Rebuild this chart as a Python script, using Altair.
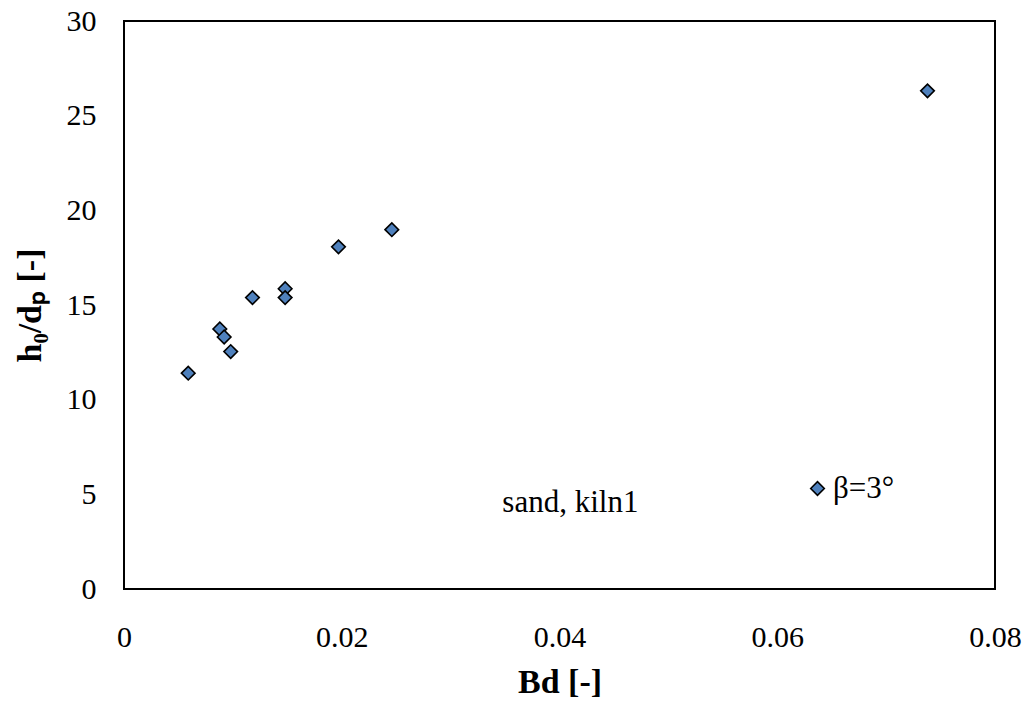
import altair as alt
import pandas as pd

# Data
bd = [0.0059, 0.0088, 0.0092, 0.0098, 0.0118, 0.0148, 0.0148, 0.0197, 0.0246, 0.0738]
h0_dp = [11.4, 13.73, 13.31, 12.54, 15.39, 15.86, 15.39, 18.07, 18.98, 26.31]
series = ["β=3°"] * len(bd)

x_ticks = [0, 0.02, 0.04, 0.06, 0.08]
y_ticks = [0, 5, 10, 15, 20, 25, 30]

note_text = ["sand, kiln1"]
note_x = [0.041]
note_y = [4.08]

FONT = "Liberation Serif"
BLUE = "#4F81BD"

df = pd.DataFrame({"Bd": bd, "h": h0_dp, "series": series})
notes = pd.DataFrame({"t": note_text, "x": note_x, "y": note_y})

xscale = alt.Scale(domain=[0, 0.08], nice=False, zero=False)
yscale = alt.Scale(domain=[0, 30], nice=False, zero=False)

points = alt.Chart(df).mark_point(
    shape="diamond", filled=True, size=185, stroke="black", strokeWidth=1.6, opacity=1
).encode(
    x=alt.X("Bd:Q", scale=xscale, title="Bd [-]",
            axis=alt.Axis(values=x_ticks, format="~g", labelFlush=False)),
    y=alt.Y("h:Q", scale=yscale, title="h₀/dₚ [-]",
            axis=alt.Axis(values=y_ticks, format="d")),
    color=alt.Color("series:N", scale=alt.Scale(range=[BLUE]),
                    legend=alt.Legend(title=None, orient="none", legendX=678, legendY=452,
                                      symbolType="diamond", symbolSize=185,
                                      symbolStrokeColor="black", symbolStrokeWidth=1.6,
                                      symbolFillColor=BLUE,
                                      labelFont=FONT, labelFontSize=31, labelColor="black",
                                      labelOffset=0, padding=0)),
)

notes_layer = alt.Chart(notes).mark_text(
    font=FONT, fontSize=31, align="center", baseline="alphabetic", color="black"
).encode(
    x=alt.X("x:Q", scale=xscale),
    y=alt.Y("y:Q", scale=yscale),
    text="t:N",
)

chart = alt.layer(points, notes_layer).properties(
    width=871, height=568,
    autosize=alt.AutoSizeParams(type="none"),
    padding={"left": 124, "top": 21, "right": 34, "bottom": 115},
).configure(
    background="white"
).configure_view(
    stroke="black", strokeWidth=2
).configure_axis(
    grid=False, ticks=False, domain=False,
    labelFont=FONT, labelFontSize=30, labelColor="black",
    titleFont=FONT, titleFontSize=34, titleFontWeight="bold", titleColor="black",
).configure_axisX(
    labelPadding=33, titlePadding=13
).configure_axisY(
    labelPadding=28, titlePadding=19
)

chart.save("out.html", embed_options={"renderer": "svg", "actions": False})
